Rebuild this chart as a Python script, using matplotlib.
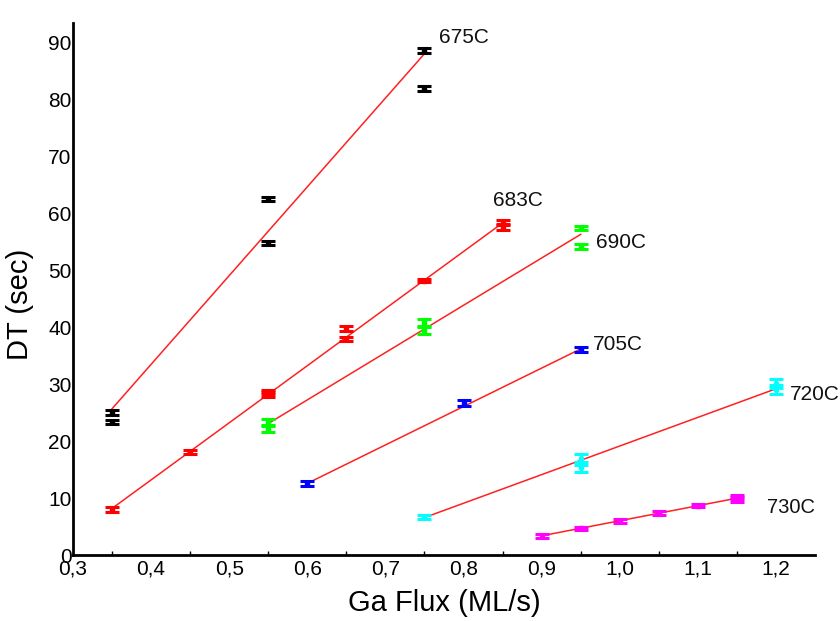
import matplotlib
matplotlib.use("Agg")
import matplotlib.pyplot as plt
import numpy as np

plt.rcParams['font.family'] = ['Liberation Sans', 'DejaVu Sans']

# Measured desorption times per substrate temperature
series_names = ["675C", "683C", "690C", "705C", "720C", "730C"]
series_colors = ["#000000", "#ff0000", "#00ff00", "#0000ff", "#00ffff", "#ff00ff"]

flux_675 = [0.35, 0.35, 0.55, 0.55, 0.75, 0.75]
dt_675 = [25.0, 23.4, 62.5, 54.8, 88.6, 81.9]
err_675 = [0.4, 0.4, 0.4, 0.4, 0.4, 0.5]

flux_683 = [0.35, 0.45, 0.55, 0.55, 0.65, 0.65, 0.75, 0.85, 0.85]
dt_683 = [8.0, 18.1, 28.2, 28.6, 39.8, 37.9, 48.2, 58.5, 57.5]
err_683 = [0.4, 0.3, 0.4, 0.4, 0.4, 0.4, 0.3, 0.4, 0.4]

flux_690 = [0.55, 0.55, 0.75, 0.75, 0.95, 0.95]
dt_690 = [23.4, 22.1, 40.9, 39.4, 57.4, 54.2]
err_690 = [0.5, 0.5, 0.6, 0.6, 0.4, 0.4]

flux_705 = [0.60, 0.80, 0.95]
dt_705 = [12.6, 26.7, 36.1]
err_705 = [0.4, 0.5, 0.5]

flux_720 = [0.75, 0.95, 0.95, 1.20, 1.20]
dt_720 = [6.7, 16.8, 15.5, 30.1, 29.1]
err_720 = [0.4, 0.9, 0.9, 0.8, 0.8]

flux_730 = [0.90, 0.95, 1.00, 1.05, 1.10, 1.15, 1.15]
dt_730 = [3.4, 4.7, 6.0, 7.4, 8.7, 10.2, 9.8]
err_730 = [0.3, 0.3, 0.3, 0.3, 0.3, 0.4, 0.4]

# Linear fit lines: flux range and fitted DT at both ends
fit_x0 = [0.35, 0.35, 0.55, 0.60, 0.75, 0.90]
fit_x1 = [0.75, 0.85, 0.95, 0.95, 1.20, 1.15]
fit_y0 = [25.7, 8.2, 23.1, 12.6, 6.6, 3.4]
fit_y1 = [88.0, 58.3, 56.3, 36.2, 29.2, 10.0]

# Temperature label anchors
label_x = [0.768, 0.838, 0.969, 0.965, 1.218, 1.188]
label_y = [90.8, 62.2, 54.8, 37.0, 28.2, 8.4]
label_size = [15, 15, 15, 15, 15, 14.5]

xs = [flux_675, flux_683, flux_690, flux_705, flux_720, flux_730]
ys = [dt_675, dt_683, dt_690, dt_705, dt_720, dt_730]
es = [err_675, err_683, err_690, err_705, err_720, err_730]

x_ticks = [0.3, 0.4, 0.5, 0.6, 0.7, 0.8, 0.9, 1.0, 1.1, 1.2]
y_ticks = [0, 10, 20, 30, 40, 50, 60, 70, 80, 90]

fig = plt.figure(figsize=(8.4, 6.21), dpi=100)
ax = fig.add_axes([0.0869, 0.106, 0.8833, 0.857])

for i in range(len(series_names)):
    ax.plot([fit_x0[i], fit_x1[i]], [fit_y0[i], fit_y1[i]], color="#ff2020",
            lw=1.1, zorder=2)
    ax.errorbar(xs[i], ys[i], yerr=es[i], fmt='s', ms=3, color=series_colors[i],
                ecolor=series_colors[i], elinewidth=2.2, capsize=5, capthick=2.2,
                zorder=3)
    ax.text(label_x[i], label_y[i], series_names[i], fontsize=label_size[i],
            ha='left', va='center', color='#111111')

ax.set_xlim(0.3, 1.25)
ax.set_ylim(0, 93.4)

ax.set_xticks(x_ticks)
ax.set_xticklabels([f"{v:.1f}".replace('.', ',') for v in x_ticks])
ax.set_xticks(np.arange(0.35, 1.25, 0.1), minor=True)
ax.set_yticks(y_ticks)
ax.set_yticklabels([str(v) for v in y_ticks])

ax.tick_params(axis='x', which='major', length=0, pad=3, labelsize=15)
ax.tick_params(axis='x', which='minor', direction='in', length=3, width=1)
ax.tick_params(axis='y', which='both', length=0, pad=1, labelsize=15)

for side in ['top', 'right']:
    ax.spines[side].set_visible(False)
for side in ['left', 'bottom']:
    ax.spines[side].set_linewidth(2)

ax.set_xlabel("Ga Flux (ML/s)", fontsize=21, labelpad=8)
ax.set_ylabel("DT (sec)", fontsize=21)
ax.yaxis.set_label_coords(-0.052, 0.472)

fig.savefig("out.png", dpi=100)
